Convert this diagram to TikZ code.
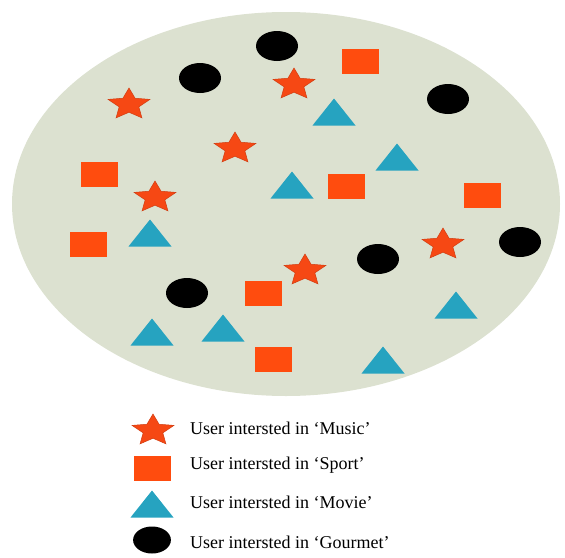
\documentclass[tikz,border=0pt]{standalone}
\usepackage{fontspec}
\setmainfont{Liberation Serif}
\usepackage{tikz}
\usetikzlibrary{positioning}
\definecolor{plate}{RGB}{220,225,208}
\definecolor{musicred}{RGB}{246,72,20}
\definecolor{sportred}{RGB}{255,76,14}
\definecolor{movieblue}{RGB}{38,163,192}

\begin{document}
\begin{tikzpicture}[x=1pt, y=-1pt,
    music/.pic={\fill[musicred, draw=musicred!85!black, line width=0.5pt, yshift=-1.5pt, xscale=22, yscale=16.5]
      (-90:1) -- (-54:0.47) -- (-18:1) -- (18:0.47) -- (54:1) -- (90:0.47)
      -- (126:1) -- (162:0.47) -- (198:1) -- (234:0.47) -- cycle;},
    sport/.pic={\fill[sportred] (-18.5,-12.5) rectangle (18.5,12.5);},
    movie/.pic={\fill[movieblue] (-21.5,13.5) -- (21.5,13.5) -- (0,-13.5) -- cycle;},
    gourmet/.pic={\fill[black] (0,0) ellipse [x radius=21, y radius=15];},
    legendtext/.style={anchor=west, inner sep=0pt, font=\fontsize{18}{20}\selectfont}]
  \useasboundingbox (0,0) rectangle (565,557);

  % the plate with all users
  \fill[plate] (286,204) ellipse [x radius=274, y radius=192];

  \pic (g1) at (277,46) {gourmet}; \pic (g2) at (200,78) {gourmet};
  \pic (g3) at (448,99) {gourmet}; \pic (g4) at (378,259) {gourmet};
  \pic (g5) at (520,242) {gourmet}; \pic (g6) at (187,293) {gourmet};

  \pic (s1) at (360,61) {sport}; \pic (s2) at (99,174) {sport};
  \pic (s3) at (346,186) {sport}; \pic (s4) at (482,195) {sport};
  \pic (s5) at (88,244) {sport}; \pic (s6) at (263,293) {sport};
  \pic (s7) at (273,359) {sport};

  \pic (m1) at (129,103) {music}; \pic (m2) at (294,83) {music};
  \pic (m3) at (235,147) {music}; \pic (m4) at (155,196) {music};
  \pic (m5) at (443,243) {music}; \pic (m6) at (305,269) {music};

  \pic (t1) at (334,112) {movie}; \pic (t2) at (397,157) {movie};
  \pic (t3) at (292,185) {movie}; \pic (t4) at (150,233) {movie};
  \pic (t5) at (456,305) {movie}; \pic (t6) at (152,332) {movie};
  \pic (t7) at (223,328) {movie}; \pic (t8) at (383,360) {movie};

  % legend
  \pic (kmusic) at (153,429) {music};
  \pic (ksport) at (152,468) {sport};
  \pic (kmovie) at (152,504) {movie};
  \pic[scale=0.9] (kgourmet) at (152,540) {gourmet};
  \node[legendtext] (lmusic) at (190,428) {User intersted in ‘Music’};
  \node[legendtext] (lsport) at (190,465) {User intersted in ‘Sport’};
  \node[legendtext] (lmovie) at (190,502) {User intersted in ‘Movie’};
  \node[legendtext] (lgourmet) at (190,542) {User intersted in ‘Gourmet’};
\end{tikzpicture}
\end{document}
